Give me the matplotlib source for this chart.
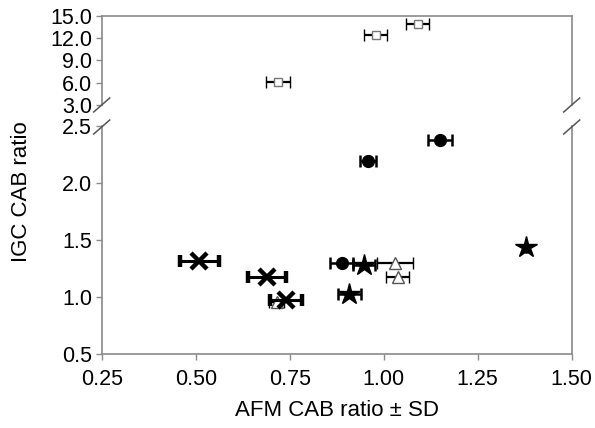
import matplotlib
matplotlib.use("Agg")
import matplotlib.pyplot as plt
from matplotlib.lines import Line2D

plt.rcParams['font.family'] = ['Liberation Sans', 'DejaVu Sans']

# ---- data ----
# open squares (upper panel)
sq_x = [0.718, 0.979, 1.090]
sq_y = [6.14, 12.4, 13.9]
sq_err = [0.032, 0.031, 0.031]
# filled circles
ci_x = [0.959, 1.150, 0.888]
ci_y = [2.19, 2.376, 1.297]
ci_err = [0.021, 0.031, 0.031]
# filled stars
st_x = [0.948, 0.909, 1.378]
st_y = [1.277, 1.03, 1.436]
st_err = [0.030, 0.030, 0.0]
# open triangles
tr_x = [1.030, 1.037, 0.715]
tr_y = [1.297, 1.175, 0.96]
tr_err = [0.049, 0.030, 0.020]
# crosses
cx_x = [0.510, 0.689, 0.740]
cx_y = [1.32, 1.175, 0.971]
cx_err = [0.051, 0.051, 0.042]

xticks = [0.25, 0.50, 0.75, 1.00, 1.25, 1.50]
yticks_low = [0.5, 1.0, 1.5, 2.0, 2.5]
yticks_up = [3.0, 6.0, 9.0, 12.0, 15.0]

W, H = 595, 428
fig = plt.figure(figsize=(W / 100, H / 100), dpi=100)

left_px, right_px = 101.7, 571.7
low_bot, low_top = 354, 126
up_bot, up_top = 105, 15.7

ax_low = fig.add_axes([left_px / W, 1 - low_bot / H, (right_px - left_px) / W, (low_bot - low_top) / H])
ax_up = fig.add_axes([left_px / W, 1 - up_bot / H, (right_px - left_px) / W, (up_bot - up_top) / H])

spine_col = '#8a8a8a'
for ax in (ax_low, ax_up):
    ax.set_xlim(0.25, 1.50)
    for s in ax.spines.values():
        s.set_color(spine_col)
        s.set_linewidth(1.2)
    ax.tick_params(axis='both', direction='out', length=4, width=1.0, color=spine_col,
                   labelsize=15.5, labelcolor='black', pad=3)
    ax.set_facecolor('none')

ax_low.spines['top'].set_visible(False)
ax_up.spines['bottom'].set_visible(False)

ax_low.set_ylim(0.5, 2.5)
ax_up.set_ylim(3.0, 15.0)
ax_low.set_yticks(yticks_low)
ax_low.set_yticklabels([f"{v:.1f}" for v in yticks_low])
ax_up.set_yticks(yticks_up)
ax_up.set_yticklabels([f"{v:.1f}" for v in yticks_up])
ax_low.set_xticks(xticks)
ax_low.set_xticklabels([f"{v:.2f}" for v in xticks])
ax_up.set_xticks([])
ax_low.tick_params(axis='x', pad=7)

# ---- series ----
eb_kw = dict(ecolor='black', capsize=4.5, linestyle='none')

ax_up.errorbar(sq_x, sq_y, xerr=sq_err, fmt='s', ms=5.5, mfc='white', mec='#777777', mew=1.0,
               elinewidth=1.6, capthick=1.6, zorder=3, **eb_kw)

ax_low.errorbar(tr_x, tr_y, xerr=tr_err, fmt='^', ms=8, mfc='white', mec='#555555', mew=1.0,
                elinewidth=1.6, capthick=1.6, zorder=3, **eb_kw)
ax_low.errorbar(cx_x, cx_y, xerr=cx_err, fmt='x', ms=11, mfc='black', mec='black', mew=3.2,
                color='black', elinewidth=2.2, capthick=2.0, zorder=4, **eb_kw)
ax_low.errorbar(ci_x, ci_y, xerr=ci_err, fmt='o', ms=8.5, mfc='black', mec='black',
                elinewidth=1.8, capthick=1.8, zorder=4, **eb_kw)
ax_low.errorbar(st_x, st_y, xerr=st_err, fmt='*', ms=16, mfc='black', mec='black',
                elinewidth=1.8, capthick=1.8, zorder=4, **eb_kw)

# ---- axis labels ----
fig.text((left_px + right_px) / 2 / W, 1 - 410 / H, 'AFM CAB ratio \u00b1 SD',
         ha='center', va='center', fontsize=16)
fig.text(22 / W, 1 - 192 / H, 'IGC CAB ratio', ha='center', va='center',
         rotation=90, fontsize=16)

# ---- break marks ----
def slash(xp, yp):
    fig.add_artist(Line2D([(xp - 8) / W, (xp + 8) / W], [1 - (yp + 7) / H, 1 - (yp - 7) / H],
                          transform=fig.transFigure, color='#555555', lw=1.1))

for xp in (left_px, right_px):
    slash(xp, 105)
    slash(xp, 127)

fig.savefig('out.png', dpi=100)
